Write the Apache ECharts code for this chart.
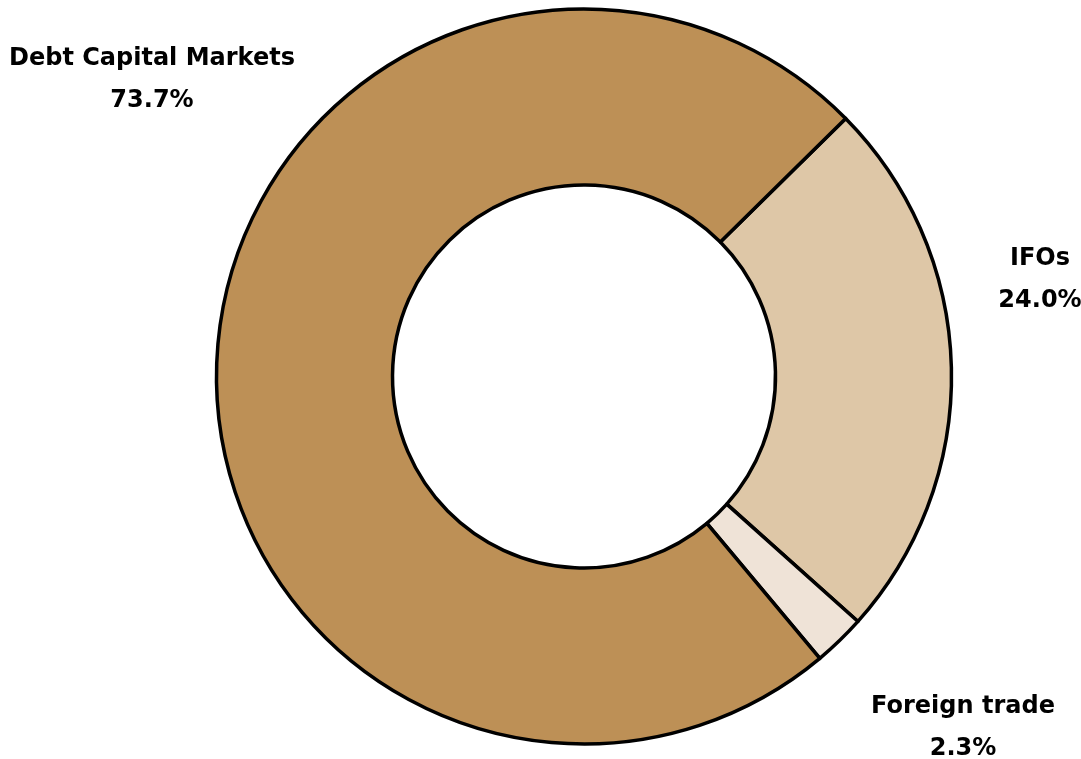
<!DOCTYPE html>
<html><head><meta charset="utf-8">
<script src="https://cdn.jsdelivr.net/npm/echarts@6/dist/echarts.min.js"></script>
<style>html,body{margin:0;padding:0;background:#fff}#c{width:1081px;height:759px}</style>
</head><body><div id="c"></div>
<script>
const categories = ['IFOs', 'Foreign trade', 'Debt Capital Markets'];
const values = [24.0, 2.3, 73.7];
const colors = ['#DEC7A7', '#EFE3D7', '#BD9056'];
const labelPos = [[1040, 280], [963, 728], [152, 80]];

const chart = echarts.init(document.getElementById('c'), null, {renderer: 'canvas'});
chart.setOption({
  animation: false,
  series: [{
    type: 'pie',
    center: [584, 376.5],
    radius: [191.5, 367.5],
    startAngle: 44.6,
    clockwise: true,
    data: categories.map((n, i) => ({name: n, value: values[i], itemStyle: {color: colors[i]}})),
    itemStyle: {borderColor: '#000', borderWidth: 3.5},
    label: {
      show: true,
      position: 'outside',
      alignTo: 'none',
      overflow: 'none',
      edgeDistance: 0,
      formatter: p => p.name + '\n' + p.value.toFixed(1) + '%',
      fontFamily: 'DejaVu Sans',
      fontWeight: 'bold',
      fontSize: 24,
      lineHeight: 42,
      color: '#000',
      align: 'center',
      verticalAlign: 'middle'
    },
    labelLine: {show: false},
    labelLayout: p => ({x: labelPos[p.dataIndex][0], y: labelPos[p.dataIndex][1], align: 'center', verticalAlign: 'middle'}),
    emphasis: {disabled: true}
  }]
});
</script></body></html>
